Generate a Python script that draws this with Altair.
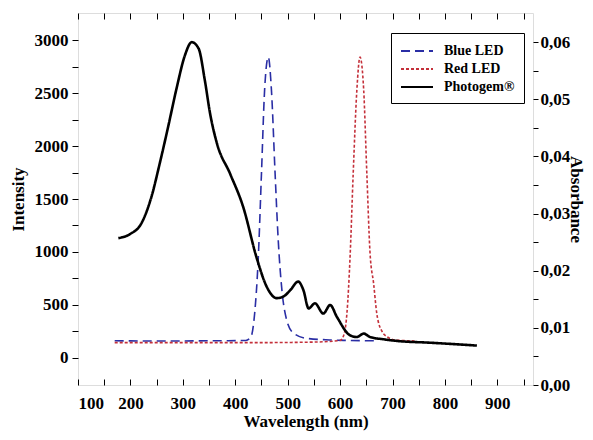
import altair as alt
import pandas as pd

# ---- data ----
series_names = ["Blue LED", "Red LED", "Photogem®"]

wl_blue = [170, 250, 350, 420, 430, 437, 444, 450, 456, 463, 469, 476, 482, 489, 498, 511, 536, 580, 620, 670]
int_blue = [162, 160, 162, 165, 200, 420, 955, 1740, 2530, 2840, 2530, 1740, 1110, 640, 360, 235, 185, 170, 165, 162]

wl_red = [170, 300, 450, 550, 600, 608, 613, 619, 625, 632, 638, 645, 651, 657, 664, 670, 680, 690, 705, 743]
int_red = [145, 145, 145, 150, 165, 230, 420, 950, 1740, 2530, 2840, 2530, 1740, 1000, 700, 420, 250, 200, 170, 160]

wl_photo = [177, 199, 221, 240, 256, 272, 288, 304, 317, 330, 342, 352, 365, 390, 415, 441, 460, 479, 492,
            505, 520, 530, 540, 552, 568, 581, 594, 619, 632, 645, 657, 683, 710, 772, 861]
abs_photo = [0.0257, 0.0264, 0.0283, 0.0329, 0.0388, 0.0452, 0.0519, 0.0577, 0.0600, 0.0589, 0.0533, 0.0475,
             0.0423, 0.0370, 0.0312, 0.0222, 0.0172, 0.0152, 0.0155, 0.0166, 0.0181, 0.0166, 0.0134, 0.0143,
             0.0125, 0.0140, 0.0119, 0.0087, 0.0084, 0.0090, 0.0084, 0.0080, 0.0077, 0.0074, 0.0069]

x_ticks = list(range(100, 951, 50))
left_ticks = list(range(0, 3001, 250))
right_ticks = [i * 0.005 for i in range(0, 13)]

colors = ["#2a2ea5", "#c4303a", "#000000"]
dashes = [[9, 5], [3, 2], [1, 0]]

FONT = "Liberation Serif"
W, H = 455, 372

led_df = pd.concat([
    pd.DataFrame({"wl": wl_blue, "val": int_blue, "series": "Blue LED"}),
    pd.DataFrame({"wl": wl_red, "val": int_red, "series": "Red LED"}),
])
photo_df = pd.DataFrame({"wl": wl_photo, "val": abs_photo, "series": "Photogem®"})

xscale = alt.Scale(domain=[100, 968], nice=False, zero=False)

legend = alt.Legend(
    title=None, orient="none", legendX=313, legendY=20,
    strokeColor="black", fillColor="white", padding=9,
    symbolType="M-1,0H3", symbolSize=256, symbolStrokeWidth=2,
    labelFont=FONT, labelFontWeight="bold", labelFontSize=14, labelColor="black",
    labelOffset=26, rowPadding=2,
)
color_enc = alt.Color("series:N", scale=alt.Scale(domain=series_names, range=colors), legend=legend)
dash_enc = alt.StrokeDash("series:N", scale=alt.Scale(domain=series_names, range=dashes), legend=legend)

lbl = dict(labelFont=FONT, labelFontWeight="bold", labelFontSize=17, labelColor="black",
           titleFont=FONT, titleFontWeight="bold", titleFontSize=17, titleColor="black",
           tickColor="black", domain=False, grid=False)

led = alt.Chart(led_df).mark_line(strokeWidth=1.6, interpolate="monotone").encode(
    x=alt.X("wl:Q", scale=xscale,
            axis=alt.Axis(orient="bottom", values=x_ticks, ticks=False,
                          labelExpr="datum.value % 100 == 0 ? datum.label : ''",
                          labelPadding=10, **lbl, title="Wavelength (nm)",
                          titlePadding=2)),
    y=alt.Y("val:Q", scale=alt.Scale(domain=[-255, 3255], nice=False, zero=False),
            axis=alt.Axis(orient="left", values=left_ticks, tickSize=6, title="Intensity",
                          labelExpr="datum.value % 500 == 0 ? datum.label : ''",
                          format="d", labelPadding=4, titlePadding=7, **lbl)),
    color=color_enc,
    strokeDash=dash_enc,
    detail="series:N",
)

photo = alt.Chart(photo_df).mark_line(strokeWidth=2.6, interpolate="monotone").encode(
    x=alt.X("wl:Q", scale=xscale,
            axis=alt.Axis(orient="top", offset=-H, values=x_ticks, labels=False, tickSize=6,
                          title=None, **lbl)),
    y=alt.Y("val:Q", scale=alt.Scale(domain=[0, 0.0651], nice=False, zero=False),
            axis=alt.Axis(orient="right", values=right_ticks, tickSize=5, title="Absorbance",
                          labelExpr="round(datum.value*1000) % 10 == 0 ? replace(format(datum.value, '.2f'), '.', ',') : ''",
                          labelPadding=2, titlePadding=-3, titleAngle=90, **lbl)),
    color=color_enc,
    strokeDash=dash_enc,
)

topticks = alt.Chart(photo_df).mark_line(opacity=0).encode(
    x=alt.X("wl:Q", scale=xscale,
            axis=alt.Axis(orient="bottom", offset=-H, values=x_ticks, labels=False, tickSize=6,
                          title=None, **lbl)),
    y=alt.Y("val:Q", scale=alt.Scale(domain=[0, 0.0651], nice=False, zero=False), axis=None),
)

chart = alt.layer(led, photo, topticks).resolve_scale(
    y="independent", x="shared"
).resolve_axis(x="independent", y="independent").properties(
    width=W, height=H,
    padding={"left": 70, "top": 5, "right": 52, "bottom": 47},
    autosize=alt.AutoSizeParams(type="none"),
).configure_view(stroke="black", strokeWidth=1.5).configure_axisBottom(
    titleFontSize=15, labelFontSize=16
).configure_axisRight(titleFontSize=15).configure(background="white")

chart.save("out.html", embed_options={"renderer": "svg", "actions": False})
